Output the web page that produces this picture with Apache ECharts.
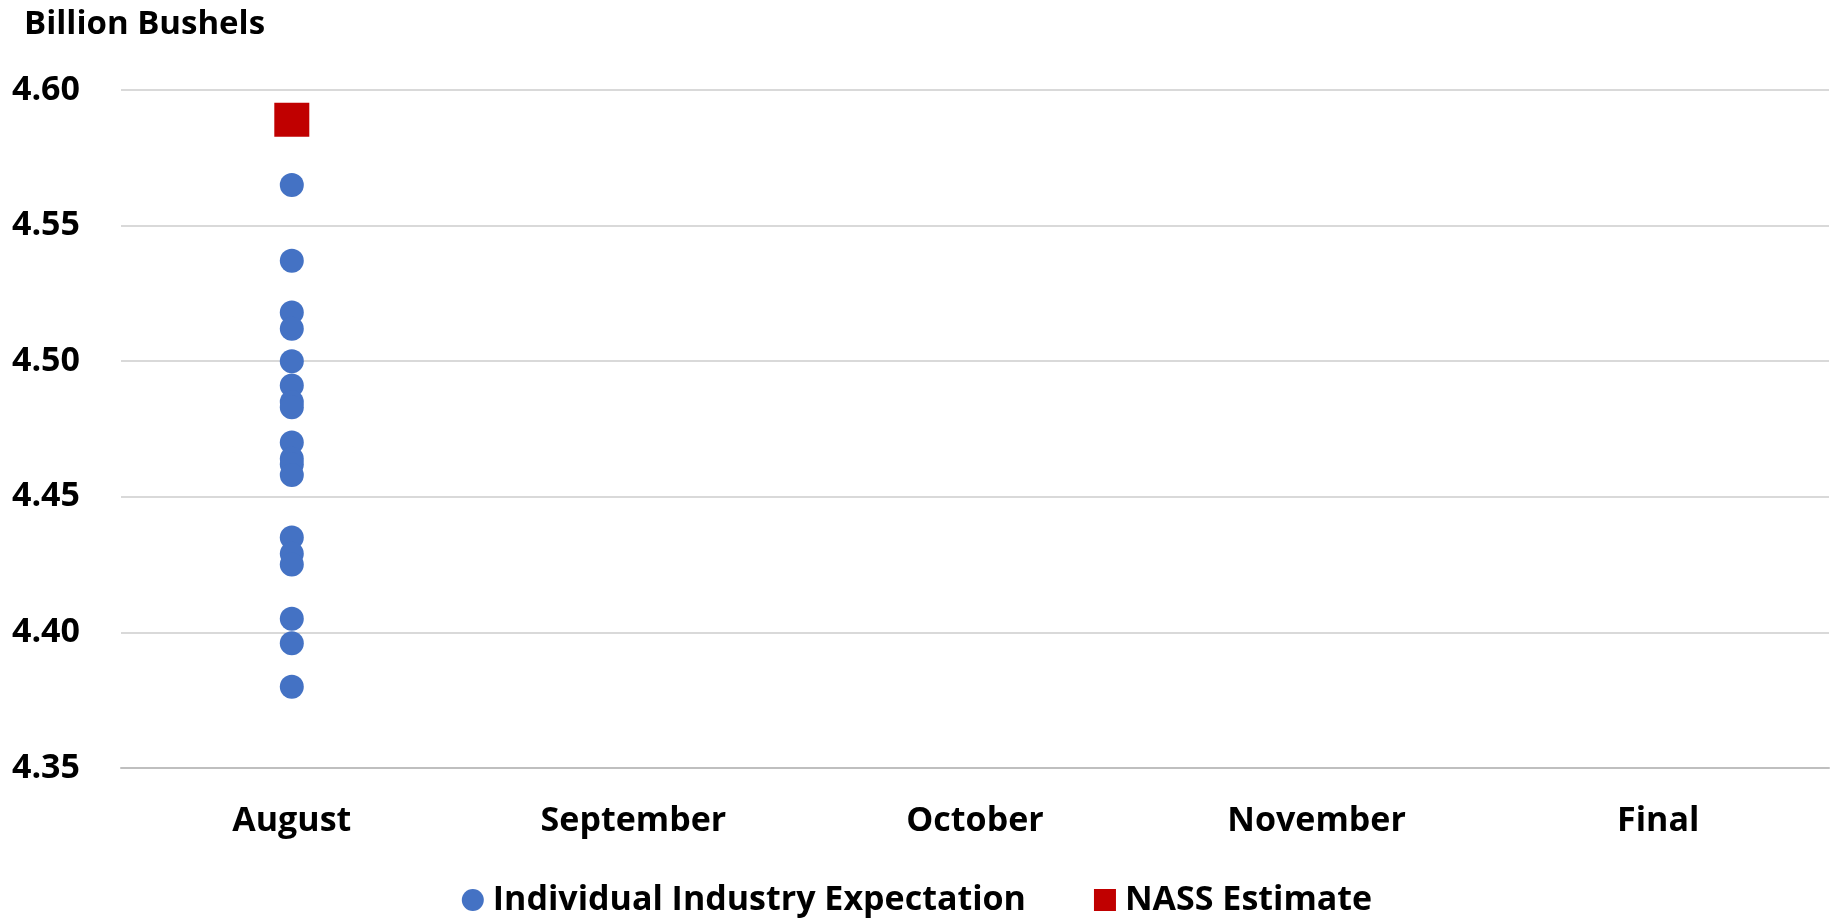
<!DOCTYPE html>
<html>
<head>
<meta charset="utf-8">
<title>Billion Bushels</title>
<script src="https://cdn.jsdelivr.net/npm/echarts@6/dist/echarts.min.js"></script>
<style>
  html, body { margin: 0; padding: 0; background: #fff; }
  #chart { width: 1834px; height: 919px; }
</style>
</head>
<body>
<div id="chart"></div>
<script>
const categories = ['August', 'September', 'October', 'November', 'Final']
const yTicks = [4.35, 4.40, 4.45, 4.50, 4.55, 4.60]

// industry guesses, all for August
const expectationMonth = 'August'
const expectations = [
  4.565, 4.537, 4.518, 4.512, 4.500, 4.491, 4.485, 4.483, 4.470,
  4.464, 4.462, 4.458, 4.435, 4.429, 4.425, 4.405, 4.396, 4.380
]
const nassMonth = 'August'
const nassEstimate = [4.589]

const font = '"Open Sans", "Liberation Sans", sans-serif'

const chart = echarts.init(document.getElementById('chart'))

const option = {
  animation: false,
  backgroundColor: '#ffffff',
  textStyle: { fontFamily: font },
  title: {
    text: 'Billion Bushels',
    left: 19,
    top: 3,
    textStyle: { fontFamily: font, fontWeight: 'bold', fontSize: 33, color: '#000' }
  },
  grid: {
    left: 121,
    right: 5,
    top: 90,
    bottom: 151,
    containLabel: false
  },
  legend: {
    bottom: -3,
    left: 'center',
    itemWidth: 22,
    itemHeight: 22,
    itemGap: 68,
    textStyle: {
      fontFamily: font,
      fontWeight: 'bold',
      fontSize: 34,
      color: '#000',
      padding: [0, 0, 0, 4]
    },
    data: [
      { name: 'Individual Industry Expectation', icon: 'circle' },
      { name: 'NASS Estimate', icon: 'rect' }
    ]
  },
  xAxis: {
    type: 'category',
    data: categories,
    boundaryGap: true,
    axisLine: { show: true, lineStyle: { color: '#bfbfbf', width: 2 } },
    axisTick: { show: false },
    axisLabel: {
      color: '#000',
      fontFamily: font,
      fontWeight: 'bold',
      fontSize: 34,
      margin: 36
    }
  },
  yAxis: {
    type: 'value',
    min: yTicks[0],
    max: yTicks[yTicks.length - 1],
    interval: 0.05,
    axisLine: { show: false },
    axisTick: { show: false },
    splitLine: { lineStyle: { color: '#d9d9d9', width: 2 } },
    axisLabel: {
      color: '#000',
      fontFamily: font,
      fontWeight: 'bold',
      fontSize: 34,
      margin: 41,
      formatter: v => v.toFixed(2)
    }
  },
  series: [
    {
      name: 'Individual Industry Expectation',
      type: 'scatter',
      symbol: 'circle',
      symbolSize: 24,
      itemStyle: { color: '#4472c4', opacity: 1 },
      data: expectations.map(v => [expectationMonth, v])
    },
    {
      name: 'NASS Estimate',
      type: 'scatter',
      symbol: 'rect',
      symbolSize: [35, 34],
      itemStyle: { color: '#c00000', opacity: 1 },
      data: nassEstimate.map(v => [nassMonth, v])
    }
  ]
}

chart.setOption(option)
</script>
</body>
</html>
